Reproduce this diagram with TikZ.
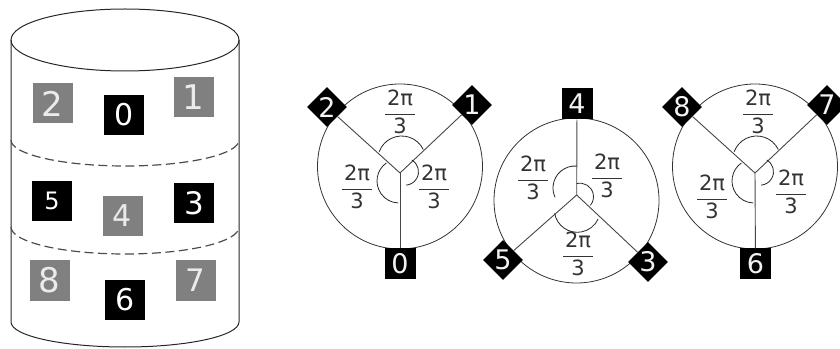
\documentclass[tikz,border=0pt]{standalone}
\usepackage{fontspec}
\setmainfont{DejaVu Sans}
\usepackage{tikz}
\usetikzlibrary{shapes.geometric}
\definecolor{tilegray}{RGB}{128,128,128}
\definecolor{linegray}{RGB}{70,70,70}
\newcommand{\twopi}{$\displaystyle{\makebox[30pt]{2π}\above 1.1pt\makebox[30pt]{3}}$}

\begin{document}
\begin{tikzpicture}[
		x=1pt, y=1pt,
		drum/.style={draw=black!85, line width=1pt},
		cut/.style={draw=black!70, line width=1.2pt, dash pattern=on 9pt off 4.5pt},
		tile/.style={minimum size=40pt, inner sep=0pt, text=white, font=\fontsize{#1}{#1}\selectfont},
		blacktile/.style={tile=#1, fill=black},
		graytile/.style={tile=#1, fill=tilegray, text=black!8},
		fansquare/.style={fill=black, text=black!5, minimum size=31pt, inner sep=0pt, font=\fontsize{27}{27}\selectfont},
		fandiamond/.style={shape=diamond, fill=black, text=black!5, minimum size=40pt, inner sep=0pt, font=\fontsize{27}{27}\selectfont},
		ring/.style={draw=black!80, line width=0.8pt},
		spoke/.style={draw=linegray, line width=0.9pt},
		sweep/.style={draw=black!85, line width=0.8pt},
		share/.style={inner sep=0pt, text=black!80, font=\fontsize{21}{21}\selectfont}
	]
		\useasboundingbox (0,0) rectangle (840,348);

		\draw[drum] (125,308) ellipse [x radius=114, y radius=31];
		\draw[drum] (11,308) -- (11,26) arc [start angle=180, end angle=360, x radius=114, y radius=25] -- (239,308);
		\draw[cut] (11,208) arc [start angle=180, end angle=360, x radius=114, y radius=26];
		\draw[cut] (11,121) arc [start angle=180, end angle=360, x radius=114, y radius=27];

		\node[graytile=34] (cyl2) at (52.5,244.5) {2};
		\node[blacktile=30] (cyl0) at (124,233) {0};
		\node[graytile=34] (cyl1) at (193.5,250.5) {1};
		\node[blacktile=24] (cyl5) at (52,147) {5};
		\node[graytile=30] (cyl4) at (122.5,132) {4};
		\node[blacktile=31] (cyl3) at (194,145) {3};
		\node[graytile=34] (cyl8) at (49.5,67.5) {8};
		\node[blacktile=30] (cyl6) at (125,48) {6};
		\node[graytile=31] (cyl7) at (195.5,67.5) {7};

		\foreach \cx/\cy in {400/181.5,576.5/147.5,755/181.5}
			\draw[ring] (\cx,\cy) circle [radius=82.5];

		\coordinate (hubA) at (400,175);
		\coordinate (hubB) at (576.7,153);
		\coordinate (hubC) at (755,175);

		\node[fandiamond] (fan2) at (327,241) {2};
		\node[fandiamond] (fan1) at (472,243) {1};
		\node[fansquare] (fan0) at (400,84) {0};
		\node[fansquare] (fan4) at (577,244) {4};
		\node[fandiamond] (fan5) at (503,88) {5};
		\node[fandiamond] (fan3) at (648,86) {3};
		\node[fandiamond] (fan8) at (682,241) {8};
		\node[fandiamond] (fan7) at (827,243) {7};
		\node[fansquare] (fan6) at (755.5,84) {6};

		\foreach \a/\b in {hubA/fan2,hubA/fan1,hubA/fan0,hubB/fan4,hubB/fan5,hubB/fan3,hubC/fan8,hubC/fan7,hubC/fan6}
			\draw[spoke] (\a) -- (\b);

		\foreach \cx/\cy/\r/\s/\e in {
			401.7/188/24/26/160, 399/167/22/125/268, 405/176.3/13.5/60/-85,
			575/160/22/85/205, 580/151.3/13.5/104/-40, 577.3/138.7/23/190/335,
			756.7/188/24/26/160, 754/167/22/125/268, 760/176.3/13.5/60/-85}
			\draw[sweep] ([shift={(\s:\r)}]\cx,\cy) arc [start angle=\s, end angle=\e, radius=\r];

		\node[share] (topA) at (400,236) {\twopi};
		\node[share] (leftA) at (357,161) {\twopi};
		\node[share] (rightA) at (434,161) {\twopi};
		\node[share] (leftB) at (533,170) {\twopi};
		\node[share] (rightB) at (607,172) {\twopi};
		\node[share] (lowB) at (578,94) {\twopi};
		\node[share] (topC) at (758,236) {\twopi};
		\node[share] (leftC) at (712,151) {\twopi};
		\node[share] (rightC) at (791,156) {\twopi};
	\end{tikzpicture}
\end{document}
